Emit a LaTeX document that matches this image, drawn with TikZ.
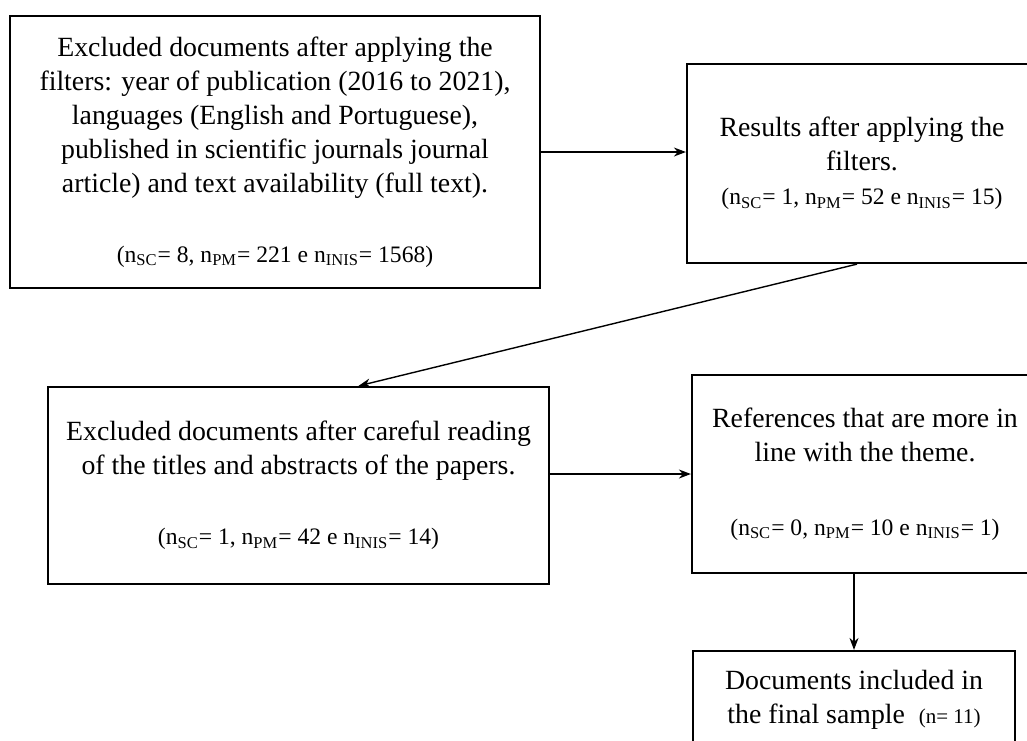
\documentclass[tikz,border=0pt]{standalone}
\usepackage{fontspec}
\setmainfont{Liberation Serif}
\usetikzlibrary{calc,arrows.meta}

\newlength{\du}
\setlength{\du}{0.5pt}
\newcommand{\nsub}[1]{n\textsubscript{#1}}
\newcommand{\countsize}{\fontsize{11.8}{14}\selectfont}

\tikzset{
  stagebox/.style={draw, line width=1.1pt, inner sep=0pt, align=center,
    font=\fontsize{13.9}{17}\selectfont},
  flowarrow/.style={line width=0.7pt, -{Stealth[length=6pt,width=4.5pt]}}
}

\begin{document}
\begin{tikzpicture}
\pgftransformxscale{1.000000}
\pgftransformyscale{-1.000000}
\useasboundingbox (0\du,0\du) rectangle (1027\du,740\du);
\clip (0\du,0\du) rectangle (1027\du,740\du);
% filter boxes
\node[stagebox, minimum width=530\du, minimum height=272\du] (filt) at (275\du,152\du)
  {Excluded documents after applying the\\
   filters: year of publication (2016 to 2021),\\
   languages (English and Portuguese),\\
   published in scientific journals journal\\
   article) and text availability (full text).\\[18pt]
   {\countsize(\nsub{SC}= 8, \nsub{PM}= 221 e \nsub{INIS}= 1568)}};
\node[stagebox, minimum width=350\du, minimum height=199\du] (res) at (862\du,163.5\du)
  {Results after applying the\\
   filters.\\
   {\countsize(\nsub{SC}= 1, \nsub{PM}= 52 e \nsub{INIS}= 15)}};
% reading boxes
\node[stagebox, minimum width=501\du, minimum height=197\du] (read) at (298.5\du,485.5\du)
  {Excluded documents after careful reading\\
   of the titles and abstracts of the papers.\\[18pt]
   {\countsize(\nsub{SC}= 1, \nsub{PM}= 42 e \nsub{INIS}= 14)}};
\node[stagebox, minimum width=346\du, minimum height=198\du] (theme) at (865\du,474\du)
  {References that are more in\\
   line with the theme.\\[20pt]
   {\countsize(\nsub{SC}= 0, \nsub{PM}= 10 e \nsub{INIS}= 1)}};
\node[stagebox, minimum width=322\du, minimum height=97\du] (final) at (854\du,699.5\du)
  {Documents included in\\
   the final sample \ {\fontsize{10.5}{12}\selectfont(n= 11)}};
% connectors
\draw[flowarrow] (filt.east) -- (filt.east -| res.west);
\coordinate (readin) at ([xshift=60\du]read.north);
\draw[flowarrow] ([xshift=-5\du]res.south) -- (readin);
\draw[flowarrow] (read.east |- theme.west) -- (theme.west);
\draw[flowarrow] (theme.south -| final.north) -- (final.north);
\end{tikzpicture}
\end{document}
